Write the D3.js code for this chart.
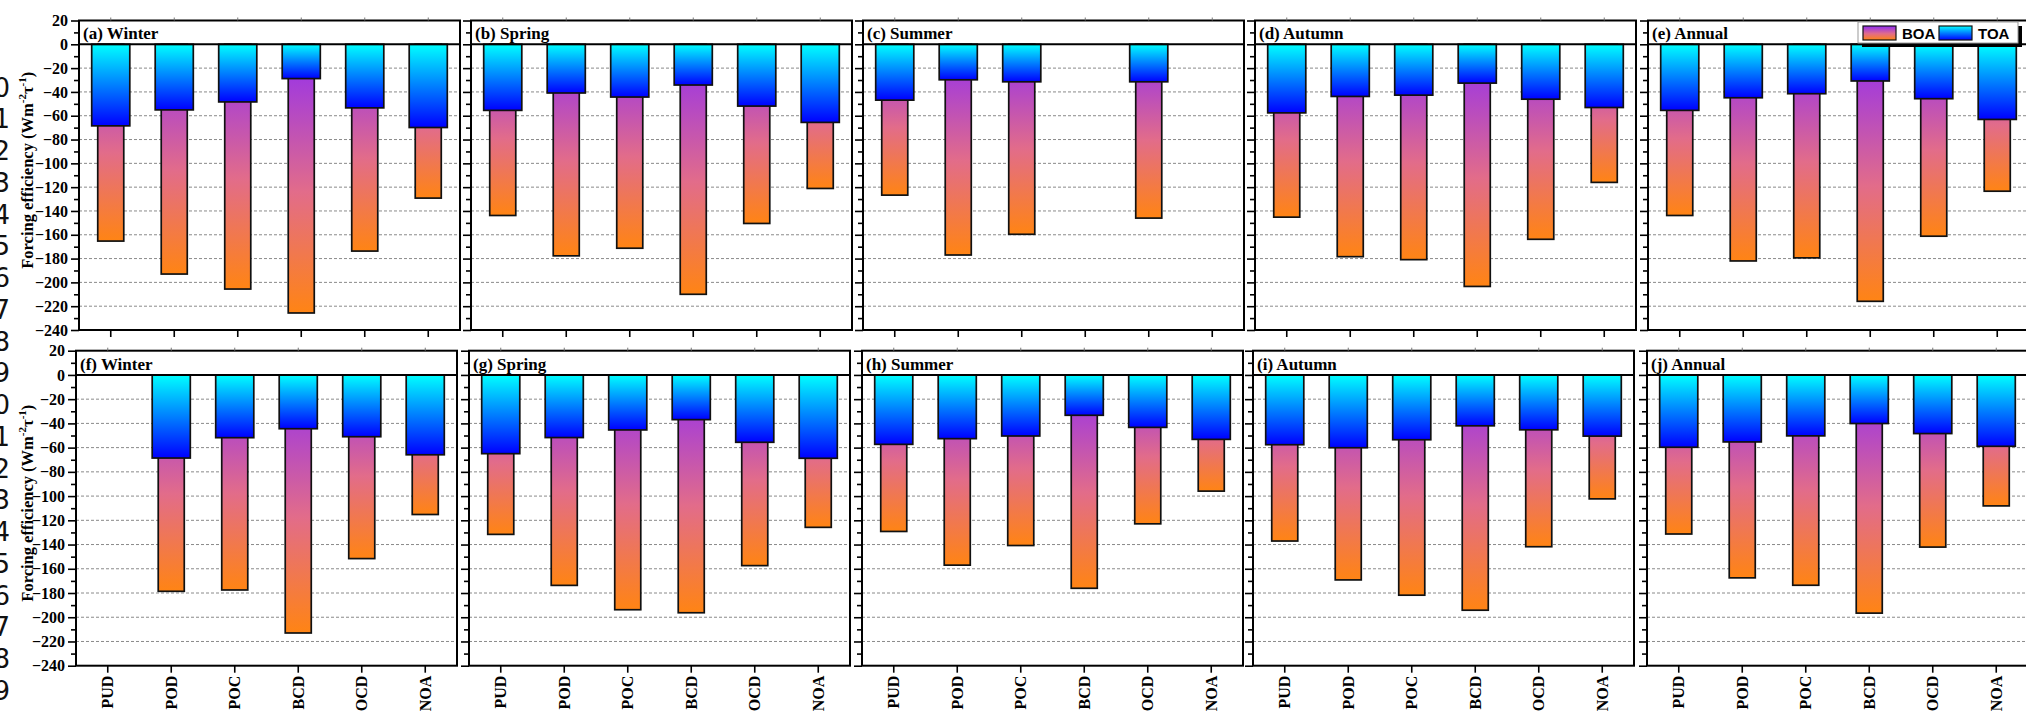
<!DOCTYPE html>
<html>
<head>
<meta charset="utf-8">
<script src="https://cdn.jsdelivr.net/npm/d3@7"></script>
<style>
body { margin: 0; background: #fff; overflow: hidden; }
svg { display: block; }
.serif { font-family: "Liberation Serif", "Times New Roman", serif; font-weight: bold; }
</style>
</head>
<body>
<svg id="chart"></svg>
<script>
let width = 2026;
let height = 715;

// data
let categories = ["PUD", "POD", "POC", "BCD", "OCD", "NOA"];
let yMajor = d3.range(20, -241, -20);
let yMinor = d3.range(10, -231, -20);
let gridValues = d3.range(-20, -221, -20);
let titlesTop = ["(a) Winter", "(b) Spring", "(c) Summer", "(d) Autumn", "(e) Annual"];
let titlesBottom = ["(f) Winter", "(g) Spring", "(h) Summer", "(i) Autumn", "(j) Annual"];

let toaTop = [
    [-68.5, -55.1, -48.4, -28.8, -53.4, -69.9],
    [-55.5, -40.9, -44.3, -34.2, -51.9, -65.6],
    [-46.9, -29.8, -31.5, null, -31.5, null],
    [-57.6, -43.8, -42.7, -32.6, -46.1, -53.1],
    [-55.5, -44.9, -41.5, -30.8, -45.7, -63.1]
];
let boaTop = [
    [-165.3, -193.0, -205.6, -225.7, -173.7, -129.2],
    [-143.8, -177.7, -171.3, -210.0, -150.5, -121.1],
    [-126.7, -177.0, -159.6, null, -146.0, null],
    [-145.2, -178.4, -180.9, -203.4, -163.8, -116.0],
    [-143.8, -182.0, -179.4, -215.9, -161.2, -123.4]
];
let toaBottom = [
    [null, -68.6, -51.8, -44.4, -51.0, -65.9],
    [-65.0, -51.7, -45.4, -36.9, -55.6, -68.8],
    [-57.3, -52.6, -50.4, -33.3, -43.3, -53.2],
    [-57.6, -60.1, -53.5, -42.0, -45.3, -50.5],
    [-59.7, -55.3, -50.3, -40.1, -48.4, -58.9]
];
let boaBottom = [
    [null, -178.6, -177.5, -213.0, -151.6, -115.2],
    [-131.6, -173.7, -193.8, -196.3, -157.4, -125.8],
    [-129.2, -157.0, -140.8, -176.1, -122.9, -95.9],
    [-137.1, -169.2, -181.8, -194.2, -141.8, -102.3],
    [-131.3, -167.5, -173.6, -196.6, -142.1, -108.1]
];
// manuscript line numbers cut at the left edge
let lineDigits = ["0", "1", "2", "3", "4", "5", "6", "7", "8", "9",
                  "0", "1", "2", "3", "4", "5", "6", "7", "8", "9"];

let rows = [
    { top: 20.5, bottom: 330, lefts: [79, 471, 863, 1255, 1648], titles: titlesTop, toa: toaTop, boa: boaTop, xLabels: false },
    { top: 350.7, bottom: 665.7, lefts: [76, 469, 862, 1253, 1647], titles: titlesBottom, toa: toaBottom, boa: boaBottom, xLabels: true }
];
let panelWidth = 381;

let svg = d3.select("#chart")
    .attr("width", width)
    .attr("height", height);

let defs = svg.append("defs");
let boaGrad = defs.append("linearGradient")
    .attr("id", "boaGrad")
    .attr("x1", 0).attr("y1", 0).attr("x2", 0).attr("y2", 1);
boaGrad.append("stop").attr("offset", "0%").attr("stop-color", "#8f2cf4");
boaGrad.append("stop").attr("offset", "55%").attr("stop-color", "#e26c8a");
boaGrad.append("stop").attr("offset", "100%").attr("stop-color", "#ff8414");
let toaGrad = defs.append("linearGradient")
    .attr("id", "toaGrad")
    .attr("x1", 0).attr("y1", 0).attr("x2", 0).attr("y2", 1);
toaGrad.append("stop").attr("offset", "0%").attr("stop-color", "#00ffff");
toaGrad.append("stop").attr("offset", "100%").attr("stop-color", "#0000ff");

// line numbers
svg.append("g")
    .selectAll("text")
    .data(lineDigits)
    .enter()
    .append("text")
    .attr("x", 10)
    .attr("y", (d, i) => 87 + i * 31.75 + 9.5)
    .attr("text-anchor", "end")
    .style("font-family", "'DejaVu Sans', sans-serif")
    .style("font-size", "26px")
    .attr("fill", "#111")
    .text(d => d);

function drawPanel(row, p) {
    let left = row.lefts[p];
    let yScale = d3.scaleLinear()
        .domain([20, -240])
        .range([row.top, row.bottom]);
    let xScale = d3.scaleBand()
        .domain(categories)
        .range([left, left + panelWidth])
        .padding(0);
    let g = svg.append("g");

    // dashed grid
    g.selectAll(".grid")
        .data(gridValues)
        .enter()
        .append("line")
        .attr("x1", left)
        .attr("x2", left + panelWidth)
        .attr("y1", d => yScale(d))
        .attr("y2", d => yScale(d))
        .attr("stroke", "#8a8a8a")
        .attr("stroke-width", 1)
        .attr("stroke-dasharray", "3,2");

    let boaData = categories.map((c, i) => ({ c: c, v: row.boa[p][i] })).filter(d => d.v !== null);
    let toaData = categories.map((c, i) => ({ c: c, v: row.toa[p][i] })).filter(d => d.v !== null);
    let bw = xScale.bandwidth();

    g.selectAll(".boa")
        .data(boaData)
        .enter()
        .append("rect")
        .attr("x", d => xScale(d.c) + bw * 0.295)
        .attr("width", bw * 0.41)
        .attr("y", yScale(0))
        .attr("height", d => yScale(d.v) - yScale(0))
        .attr("fill", "url(#boaGrad)")
        .attr("stroke", "#111")
        .attr("stroke-width", 1.7);

    g.selectAll(".toa")
        .data(toaData)
        .enter()
        .append("rect")
        .attr("x", d => xScale(d.c) + bw * 0.2)
        .attr("width", bw * 0.6)
        .attr("y", yScale(0))
        .attr("height", d => yScale(d.v) - yScale(0))
        .attr("fill", "url(#toaGrad)")
        .attr("stroke", "#111")
        .attr("stroke-width", 1.7);

    // zero line and frame
    g.append("line")
        .attr("x1", left).attr("x2", left + panelWidth)
        .attr("y1", yScale(0)).attr("y2", yScale(0))
        .attr("stroke", "#000").attr("stroke-width", 2);
    g.append("rect")
        .attr("x", left).attr("y", row.top)
        .attr("width", panelWidth).attr("height", row.bottom - row.top)
        .attr("fill", "none").attr("stroke", "#000").attr("stroke-width", 2);

    // y axis
    let yAxis = d3.axisLeft(yScale)
        .tickValues(yMajor)
        .tickSize(8)
        .tickPadding(3)
        .tickSizeOuter(0)
        .tickFormat(p === 0 ? d3.format("d") : "");
    let ya = g.append("g")
        .attr("transform", "translate(" + left + ",0)")
        .call(yAxis);
    let yMinorAxis = d3.axisLeft(yScale)
        .tickValues(yMinor)
        .tickSize(5)
        .tickSizeOuter(0)
        .tickFormat("");
    let ym = g.append("g")
        .attr("transform", "translate(" + left + ",0)")
        .call(yMinorAxis);

    // x axis
    let xAxis = d3.axisBottom(xScale)
        .tickSize(7)
        .tickSizeOuter(0)
        .tickFormat(row.xLabels ? null : "");
    let xa = g.append("g")
        .attr("transform", "translate(0," + row.bottom + ")")
        .call(xAxis);
    let xTopAxis = d3.axisTop(xScale)
        .tickSize(3)
        .tickSizeOuter(0)
        .tickFormat("");
    let xt = g.append("g")
        .attr("transform", "translate(0," + row.top + ")")
        .call(xTopAxis);

    [ya, ym, xa, xt].forEach(a => {
        a.select(".domain").remove();
        a.selectAll(".tick line").attr("stroke", "#000").attr("stroke-width", 1.6);
    });
    xt.selectAll(".tick line").attr("stroke", "#777").attr("stroke-width", 1);

    ya.selectAll("text")
        .attr("class", "serif")
        .style("font-size", "16px")
        .attr("fill", "#000");

    if (row.xLabels) {
        xa.selectAll("text")
            .attr("class", "serif")
            .style("font-size", "16px")
            .attr("fill", "#000")
            .attr("transform", "rotate(-90)")
            .attr("text-anchor", "end")
            .attr("x", -10)
            .attr("y", 0)
            .attr("dy", "0.35em");
    }

    // panel title
    g.append("text")
        .attr("class", "serif")
        .attr("x", left + 4)
        .attr("y", yScale(0) - 5)
        .style("font-size", "17px")
        .text(row.titles[p]);

    return yScale;
}

rows.forEach(row => {
    row.lefts.forEach((l, p) => drawPanel(row, p));
    let cy = (row.top + row.bottom) / 2 - 5;
    let label = svg.append("text")
        .attr("class", "serif")
        .attr("transform", "translate(33," + cy + ") rotate(-90)")
        .attr("text-anchor", "middle")
        .style("font-size", "16.5px");
    label.append("tspan").text("Forcing efficiency (Wm");
    label.append("tspan").attr("dy", -7).style("font-size", "11px").text("-2");
    label.append("tspan").attr("dy", 7).text("τ");
    label.append("tspan").attr("dy", -7).style("font-size", "11px").text("-1");
    label.append("tspan").attr("dy", 7).text(")");
});

// legend in panel (e)
let lgX = rows[0].lefts[4] + 210;
let lgY = rows[0].top + 1.5;
let legend = svg.append("g");
legend.append("rect")
    .attr("x", lgX + 4).attr("y", lgY + 4)
    .attr("width", 160).attr("height", 21)
    .attr("fill", "#000");
legend.append("rect")
    .attr("x", lgX).attr("y", lgY)
    .attr("width", 160).attr("height", 21)
    .attr("fill", "#fff").attr("stroke", "#999").attr("stroke-width", 1);
let legendItems = [
    { name: "BOA", fill: "url(#boaGrad)", dx: 5 },
    { name: "TOA", fill: "url(#toaGrad)", dx: 81 }
];
legendItems.forEach(it => {
    legend.append("rect")
        .attr("x", lgX + it.dx).attr("y", lgY + 4)
        .attr("width", 33).attr("height", 14)
        .attr("fill", it.fill).attr("stroke", "#111").attr("stroke-width", 1.2);
    legend.append("text")
        .attr("x", lgX + it.dx + 39).attr("y", lgY + 17)
        .style("font-family", "'Liberation Sans', Arial, sans-serif")
        .style("font-weight", "bold")
        .style("font-size", "15px")
        .text(it.name);
});
</script>
</body>
</html>
